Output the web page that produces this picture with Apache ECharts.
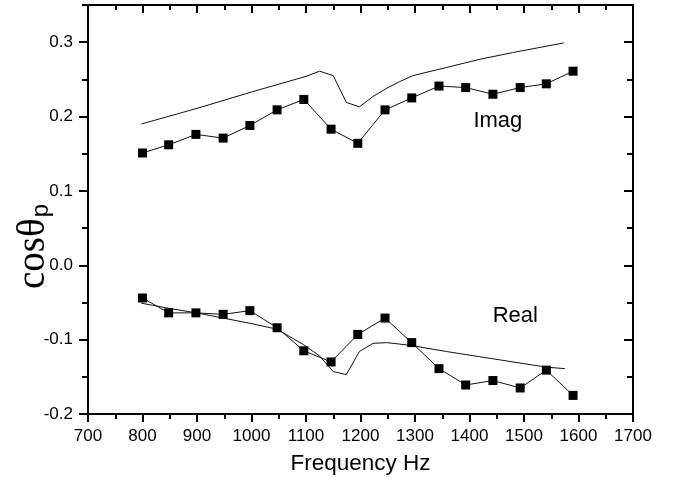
<!DOCTYPE html>
<html>
<head>
<meta charset="utf-8">
<script src="https://cdn.jsdelivr.net/npm/echarts@6/dist/echarts.min.js"></script>
<style>html,body{margin:0;padding:0;background:#fff;}#c{width:680px;height:485px;}</style>
</head>
<body>
<div id="c"></div>
<script>
// Measured frequencies (Hz)
var freqMeas = [800, 848, 898, 948, 997, 1047, 1096, 1146, 1195, 1245, 1294, 1344, 1393, 1443, 1493, 1541, 1590];
var imagMeas = [0.151, 0.162, 0.176, 0.171, 0.188, 0.209, 0.223, 0.183, 0.164, 0.209, 0.225, 0.241, 0.239, 0.230, 0.239, 0.244, 0.261];
var realMeas = [-0.044, -0.064, -0.064, -0.066, -0.061, -0.084, -0.115, -0.130, -0.093, -0.071, -0.104, -0.139, -0.161, -0.155, -0.165, -0.141, -0.175];

// Model curves
var imagModelF = [798, 900, 1000, 1100, 1125, 1150, 1174, 1198, 1223, 1248, 1272, 1296, 1358, 1419, 1479, 1573];
var imagModelV = [0.190, 0.211, 0.233, 0.254, 0.261, 0.255, 0.219, 0.213, 0.227, 0.238, 0.247, 0.255, 0.266, 0.277, 0.286, 0.299];
var realModelF = [798, 849, 899, 948, 997, 1047, 1096, 1125, 1150, 1174, 1198, 1223, 1248, 1272, 1294, 1358, 1419, 1480, 1541, 1575];
var realModelV = [-0.051, -0.058, -0.064, -0.071, -0.078, -0.086, -0.107, -0.122, -0.143, -0.147, -0.116, -0.105, -0.104, -0.106, -0.108, -0.116, -0.123, -0.130, -0.137, -0.139];

var labelTexts = ['Imag', 'Real'];
var labelF = [1452, 1484];
var labelV = [0.194, -0.0675];

var xTicks = {min: 700, max: 1700, interval: 100};
var yTicks = {min: -0.2, max: 0.35, interval: 0.1, minor: 0.05};
var yTitleMain = 'cosθ';
var yTitleSub = 'p';

function zip(a, b) { return a.map(function (v, i) { return [v, b[i]]; }); }

var font = 'Liberation Sans, Arial, Helvetica, sans-serif';
var axisLine = {show: true, onZero: false, lineStyle: {color: '#000', width: 2}};

var chart = echarts.init(document.getElementById('c'), null, {renderer: 'canvas'});
chart.setOption({
  animation: false,
  backgroundColor: '#fff',
  grid: {left: 88, right: 47, top: 5, bottom: 71, containLabel: false},
  xAxis: [
    {
      type: 'value', position: 'bottom', min: xTicks.min, max: xTicks.max, interval: xTicks.interval,
      axisLine: axisLine,
      axisTick: {show: true, length: 8, inside: false, lineStyle: {color: '#000', width: 2}},
      minorTick: {show: true, splitNumber: 2, length: 5, lineStyle: {color: '#000', width: 2}},
      splitLine: {show: false},
      axisLabel: {margin: 14, color: '#000', fontSize: 17, fontFamily: font,
        formatter: function (v) { return String(v); }},
      name: 'Frequency Hz', nameLocation: 'middle', nameGap: 38,
      nameTextStyle: {color: '#000', fontSize: 22.5, fontFamily: font}
    },
    {
      type: 'value', position: 'top', min: xTicks.min, max: xTicks.max, interval: xTicks.interval,
      axisLine: axisLine,
      axisTick: {show: true, length: 8, inside: true, lineStyle: {color: '#000', width: 2}},
      minorTick: {show: true, splitNumber: 2, length: 5, lineStyle: {color: '#000', width: 2}},
      splitLine: {show: false}, axisLabel: {show: false}
    }
  ],
  yAxis: [
    {
      type: 'value', position: 'left', min: yTicks.min, max: yTicks.max, interval: yTicks.interval,
      axisLine: axisLine,
      axisTick: {show: true, length: 9, inside: false, lineStyle: {color: '#000', width: 2}},
      splitLine: {show: false},
      axisLabel: {margin: 15, color: '#000', fontSize: 17, fontFamily: font, showMaxLabel: false,
        formatter: function (v) { return v.toFixed(1); }}
    },
    {
      type: 'value', position: 'left', min: yTicks.min, max: yTicks.max, interval: yTicks.minor,
      axisLine: {show: false},
      axisTick: {show: true, length: 6, inside: false, lineStyle: {color: '#000', width: 2}},
      splitLine: {show: false}, axisLabel: {show: false}
    },
    {
      type: 'value', position: 'right', min: yTicks.min, max: yTicks.max, interval: yTicks.interval,
      axisLine: axisLine,
      axisTick: {show: true, length: 9, inside: true, lineStyle: {color: '#000', width: 2}},
      splitLine: {show: false}, axisLabel: {show: false}
    },
    {
      type: 'value', position: 'right', min: yTicks.min, max: yTicks.max, interval: yTicks.minor,
      axisLine: {show: false},
      axisTick: {show: true, length: 6, inside: true, lineStyle: {color: '#000', width: 2}},
      splitLine: {show: false}, axisLabel: {show: false}
    }
  ],
  graphic: [{
    type: 'text', left: 14, top: 204, rotation: Math.PI / 2, silent: true,
    style: {
      text: '{a|' + yTitleMain + '}{b|' + yTitleSub + '}',
      rich: {
        a: {fontSize: 39, fontFamily: 'Liberation Serif, Times New Roman, serif', fill: '#000', verticalAlign: 'bottom'},
        b: {fontSize: 24, fontFamily: 'Liberation Sans, Arial, sans-serif', fill: '#000', verticalAlign: 'bottom', padding: [16, 0, 0, 1]}
      }
    }
  }],
  series: [
    {
      name: 'Imag model', type: 'line', xAxisIndex: 0, yAxisIndex: 0, data: zip(imagModelF, imagModelV),
      showSymbol: false, symbol: 'none', lineStyle: {color: '#111', width: 1}, silent: true
    },
    {
      name: 'Real model', type: 'line', xAxisIndex: 0, yAxisIndex: 0, data: zip(realModelF, realModelV),
      showSymbol: false, symbol: 'none', lineStyle: {color: '#111', width: 1}, silent: true
    },
    {
      name: 'Imag', type: 'line', xAxisIndex: 0, yAxisIndex: 0, data: zip(freqMeas, imagMeas),
      symbol: 'rect', symbolSize: 9, itemStyle: {color: '#000'}, lineStyle: {color: '#111', width: 1}, silent: true
    },
    {
      name: 'Real', type: 'line', xAxisIndex: 0, yAxisIndex: 0, data: zip(freqMeas, realMeas),
      symbol: 'rect', symbolSize: 9, itemStyle: {color: '#000'}, lineStyle: {color: '#111', width: 1}, silent: true
    },
    {
      name: 'labels', type: 'scatter', xAxisIndex: 0, yAxisIndex: 0, symbolSize: 0, silent: true,
      itemStyle: {opacity: 1, color: '#000'},
      data: labelTexts.map(function (t, i) { return {name: t, value: [labelF[i], labelV[i]]}; }),
      label: {show: true, position: 'inside', formatter: '{b}', color: '#000', opacity: 1,
        textBorderWidth: 0, fontSize: 22, fontFamily: font}
    }
  ]
});
</script>
</body>
</html>
